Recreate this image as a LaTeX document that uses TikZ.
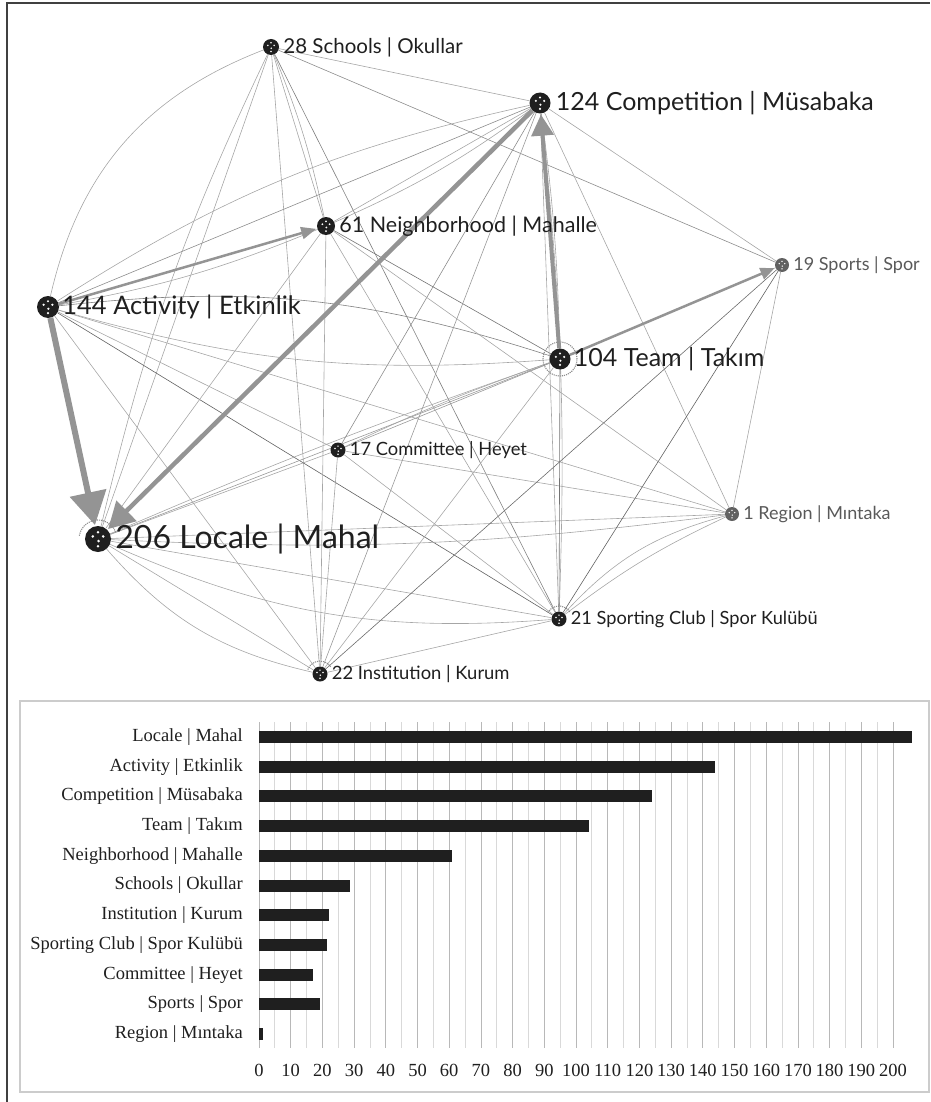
\documentclass[tikz,border=0pt]{standalone}
\usepackage{fontspec}
\setmainfont{Liberation Serif}
\newfontfamily\netfont{Lato}
\usetikzlibrary{positioning,arrows.meta,backgrounds}
\def\nf#1{\netfont\fontsize{#1}{#1}\selectfont}
\tikzset{
  ball/.style={circle, fill=black!88, minimum size=#1, inner sep=0pt,
    path picture={\foreach \dx/\dy in {-0.2/0.1, 0.2/0.1, 0/0.26, 0.02/-0.08, 0/-0.28}
      \fill[white] ([shift={(\dx*#1,\dy*#1)}]path picture bounding box.center) circle (0.055*#1);}},
  dimball/.style={ball=#1, fill=black!62},
  netlabel/.style={inner sep=0pt, text=black!88},
  dimlabel/.style={inner sep=0pt, text=black!65},
  edge/.style={line width=0.6pt},
  fat/.style={draw=black!42, shorten >=1pt},
  halo/.style={draw=black!45, densely dotted, line width=1.1pt},
  catlabel/.style={anchor=east, inner sep=0pt, font=\fontsize{18.5}{18.5}\selectfont, text=black!88},
  ticklabel/.style={inner sep=0pt, font=\fontsize{18.5}{18.5}\selectfont, text=black!88}
}
\begin{document}
\begin{tikzpicture}[x=1pt, y=-1pt]
  %%%%% START %%%%%
  \useasboundingbox (0,0) rectangle (930,1102);
  \draw[black!75, line width=1.5pt] (7,1102) -- (7,3) -- (930,3);

  % network nodes
  \node[ball=16pt] (sch) at (271,47) {};
  \node[ball=21pt] (com) at (540,103) {};
  \node[ball=18pt] (nei) at (326,226) {};
  \node[dimball=14pt] (spo) at (782,265) {};
  \node[ball=22pt] (act) at (48,307) {};
  \node[ball=21pt] (tea) at (560,359) {};
  \node[ball=15pt] (cmt) at (338,450) {};
  \node[dimball=14pt] (reg) at (732,514) {};
  \node[ball=26pt] (loc) at (98,539) {};
  \node[ball=15pt] (scl) at (559,619) {};
  \node[ball=15pt] (ins) at (320,674) {};

  \node[netlabel, font=\nf{20.5}, right=4pt of sch] (sch-t) {28 Schools | Okullar};
  \node[netlabel, font=\nf{25}, right=5pt of com] (com-t) {124 Competition | Müsabaka};
  \node[netlabel, font=\nf{21.5}, right=4pt of nei] (nei-t) {61 Neighborhood | Mahalle};
  \node[dimlabel, font=\nf{18}, right=4pt of spo] (spo-t) {19 Sports | Spor};
  \node[netlabel, font=\nf{25.5}, right=3pt of act] (act-t) {144 Activity | Etkinlik};
  \node[netlabel, font=\nf{25}, right=3pt of tea] (tea-t) {104 Team | Takım};
  \node[netlabel, font=\nf{18.3}, right=4pt of cmt] (cmt-t) {17 Committee | Heyet};
  \node[dimlabel, font=\nf{18}, right=4pt of reg] (reg-t) {1 Region | Mıntaka};
  \node[netlabel, font=\nf{32}, right=4pt of loc] (loc-t) {206 Locale | Mahal};
  \node[netlabel, font=\nf{18.2}, right=4pt of scl] (scl-t) {21 Sporting Club | Spor Kulübü};
  \node[netlabel, font=\nf{18.4}, right=4pt of ins] (ins-t) {22 Institution | Kurum};

  \begin{scope}[on background layer]
    \foreach \a/\b/\s/\c in {sch/act/-28/35, sch/loc/0/35, sch/loc/-6/35, sch/nei/0/35, sch/nei/5/35,
        sch/com/0/35, sch/spo/0/45, sch/scl/0/50, sch/ins/0/35,
        act/com/0/45, act/com/10/35, act/nei/-6/35, act/tea/12/50, act/tea/-10/35,
        act/cmt/0/35, act/reg/0/35, act/scl/0/62, act/ins/0/35,
        loc/nei/0/35, loc/tea/0/40, loc/tea/2/35, loc/reg/0/35, loc/reg/-5/35,
        loc/scl/-14/35, loc/scl/0/35, loc/ins/-18/35, loc/ins/0/35, loc/cmt/0/35,
        cmt/tea/0/40, cmt/tea/3/35, cmt/com/0/45, cmt/ins/0/35, cmt/reg/0/35, cmt/scl/0/35,
        nei/tea/0/55, nei/scl/0/35, nei/com/0/35, nei/com/-6/35, nei/ins/0/35, nei/reg/0/35,
        com/spo/0/35, com/scl/0/35, com/scl/4/35, com/ins/0/40, com/reg/0/35, com/tea/3/35,
        tea/scl/0/55, tea/ins/0/35, tea/spo/0/35,
        spo/scl/0/62, spo/ins/0/58, spo/reg/0/35,
        reg/scl/-16/35, reg/scl/-6/35, ins/scl/0/35}
      \draw[edge, draw=black!\c] (\a) to[bend left=\s] (\b);

    % heavy links
    \draw[fat, line width=2.5pt, -{Triangle[length=15pt,width=12pt]}] (act) -- (nei);
    \draw[fat, line width=2.5pt, -{Triangle[length=14pt,width=12pt]}] (tea) -- (spo);
    \draw[fat, line width=4pt, -{Triangle[length=21pt,width=22pt]}] (tea) -- (com);
    \draw[fat, line width=4.5pt, -{Triangle[length=26pt,width=28pt]}] (com) -- (loc);
    \draw[fat, line width=6pt, -{Triangle[length=33pt,width=36pt]}] (act) -- (loc);

    % self loops
    \draw[halo] (tea) circle (17pt);
    \draw[halo] (loc.center) ++(170:19pt) arc[start angle=170, end angle=20, radius=19pt];
    \draw[halo] (scl.center) ++(150:13pt) arc[start angle=150, end angle=30, radius=13pt];
    \draw[halo] (ins.center) ++(160:13pt) arc[start angle=160, end angle=30, radius=13pt];
  \end{scope}

  % bar chart
  \draw[black!20, line width=1.2pt] (20,701) rectangle (929,1092);
  \foreach \v in {0,5,...,200}
    \draw[black!15, line width=0.8pt] (259+\v*3.17,722) -- (259+\v*3.17,1048);
  \foreach \v in {0,10,...,200} {
    \draw[black!28, line width=0.8pt] (259+\v*3.17,722) -- (259+\v*3.17,1048);
    \node[ticklabel] (tick\v) at (259+\v*3.17,1070) {\v};
  }
  \foreach \lab/\val [count=\i from 0] in {Locale | Mahal/206, Activity | Etkinlik/144,
      Competition | Müsabaka/124, Team | Takım/104, Neighborhood | Mahalle/61,
      Schools | Okullar/28.7, Institution | Kurum/22, Sporting Club | Spor Kulübü/21.5,
      Committee | Heyet/17, Sports | Spor/19.2, Region | Mıntaka/1.2} {
    \node[catlabel] (cat\i) at (243,737+\i*29.7) {\lab};
    \fill[black!88] (259,731+\i*29.7) rectangle (259+\val*3.17,743+\i*29.7);
  }
  %%%%% END %%%%%
\end{tikzpicture}
\end{document}
